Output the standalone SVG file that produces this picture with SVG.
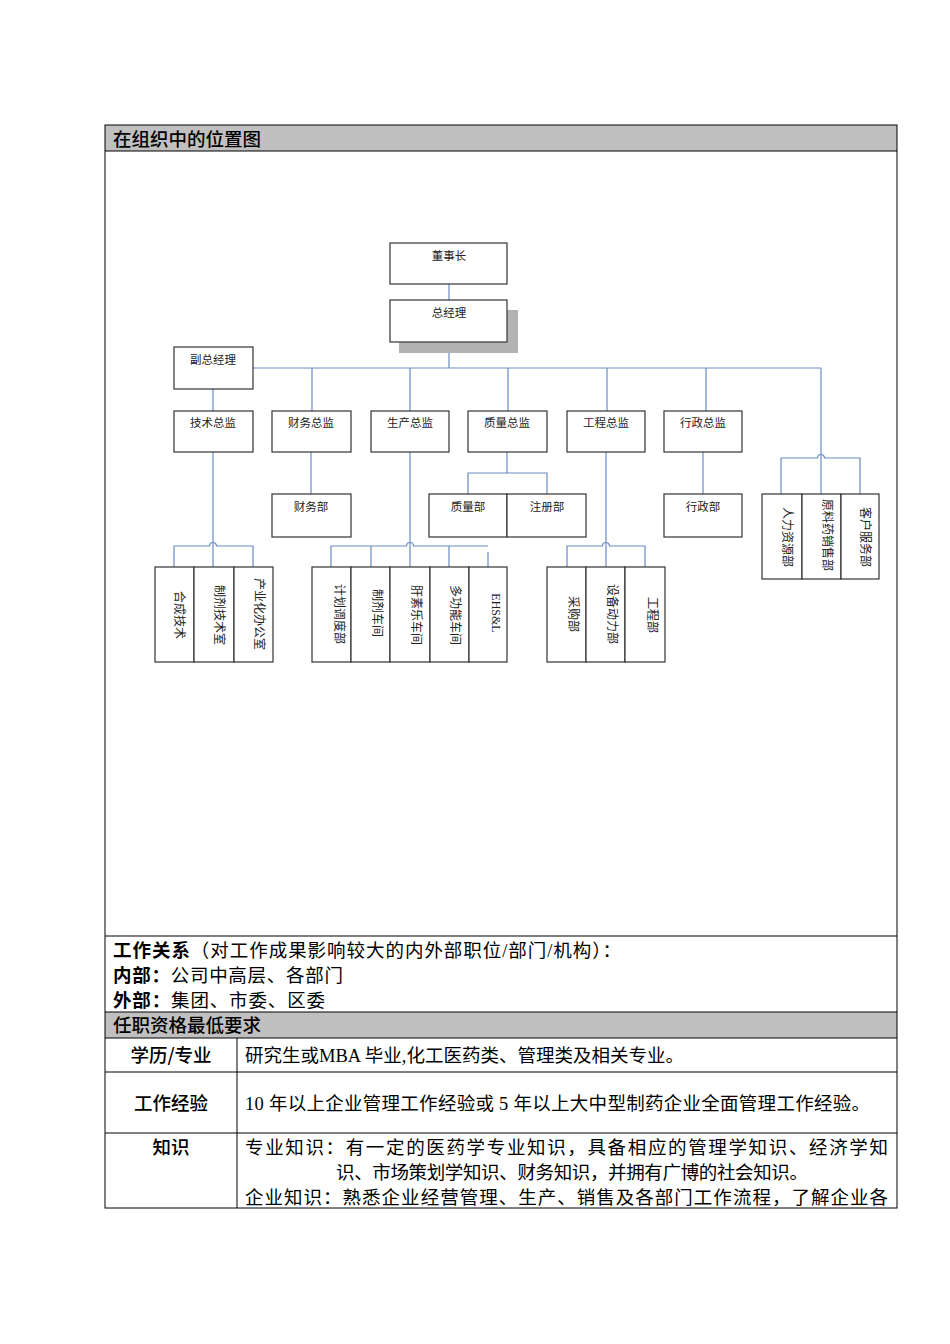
<svg xmlns="http://www.w3.org/2000/svg" width="950" height="1344" viewBox="0 0 950 1344">
<style>
.bx{fill:#fff;stroke:#333;stroke-width:1.2}
.cn{fill:none;stroke:#6a8cc4;stroke-width:1.2}
.t{font-family:"Noto Sans CJK SC","Liberation Sans",sans-serif;font-size:11.5px;fill:#222;text-anchor:middle}
.v{font-family:"Noto Sans CJK SC","Liberation Sans",sans-serif;font-size:12px;fill:#222;text-anchor:middle}
.ve{font-family:"Liberation Serif","Noto Sans CJK SC",serif;font-size:12px;fill:#222;text-anchor:middle}
.tl{fill:none;stroke:#000;stroke-width:1}
.hd{font-family:"Noto Sans CJK SC",sans-serif;font-size:18.5px;font-weight:500;fill:#000}
.lb{font-family:"Noto Sans CJK SC",sans-serif;font-size:18.5px;font-weight:500;fill:#000;text-anchor:middle}
.bd{font-family:"Noto Sans CJK SC",sans-serif;font-weight:bold}
.bt{font-family:"Liberation Serif","Noto Sans CJK SC",serif;font-size:18.5px;fill:#000}
</style>

<g id="table">
  <rect x="105" y="125" width="792" height="26" fill="#c0c0c0"/>
  <rect x="105" y="1012" width="792" height="26" fill="#c0c0c0"/>
  <rect class="tl" x="105" y="125" width="792" height="1083"/>
  <line class="tl" x1="105" y1="151" x2="897" y2="151"/>
  <line class="tl" x1="105" y1="936" x2="897" y2="936"/>
  <line class="tl" x1="105" y1="1012" x2="897" y2="1012"/>
  <line class="tl" x1="105" y1="1038" x2="897" y2="1038"/>
  <line class="tl" x1="105" y1="1072" x2="897" y2="1072"/>
  <line class="tl" x1="105" y1="1133" x2="897" y2="1133"/>
  <line class="tl" x1="237" y1="1038" x2="237" y2="1208" stroke-width="1.5"/>
  <text class="hd" x="113" y="146">在组织中的位置图</text>
  <text class="bt" x="113" y="957" textLength="508" lengthAdjust="spacing"><tspan class="bd">工作关系</tspan>（对工作成果影响较大的内外部职位/部门/机构）：</text>
  <text class="bt" x="113" y="982" textLength="230" lengthAdjust="spacing"><tspan class="bd">内部：</tspan>公司中高层、各部门</text>
  <text class="bt" x="113" y="1007" textLength="212" lengthAdjust="spacing"><tspan class="bd">外部：</tspan>集团、市委、区委</text>
  <text class="hd" x="113" y="1032">任职资格最低要求</text>
  <text class="lb" x="171" y="1062">学历/专业</text>
  <text class="bt" x="245" y="1062" textLength="439" lengthAdjust="spacing">研究生或MBA 毕业,化工医药类、管理类及相关专业。</text>
  <text class="lb" x="171" y="1110">工作经验</text>
  <text class="bt" x="245" y="1110" textLength="625" lengthAdjust="spacing">10 年以上企业管理工作经验或 5 年以上大中型制药企业全面管理工作经验。</text>
  <text class="lb" x="171" y="1154">知识</text>
  <text class="bt" x="245" y="1154" textLength="643" lengthAdjust="spacing">专业知识：有一定的医药学专业知识，具备相应的管理学知识、经济学知</text>
  <text class="bt" x="336" y="1179" textLength="472" lengthAdjust="spacing">识、市场策划学知识、财务知识，并拥有广博的社会知识。</text>
  <text class="bt" x="245" y="1204" textLength="643" lengthAdjust="spacing">企业知识：熟悉企业经营管理、生产、销售及各部门工作流程，了解企业各</text>
</g>

<g id="connectors">
  <line class="cn" x1="449" y1="284" x2="449" y2="300"/>
  <line class="cn" x1="449" y1="342" x2="449" y2="368"/>
  <line class="cn" x1="253" y1="368" x2="821" y2="368"/>
  <line class="cn" x1="312" y1="368" x2="312" y2="411"/>
  <line class="cn" x1="410" y1="368" x2="410" y2="411"/>
  <line class="cn" x1="508" y1="368" x2="508" y2="411"/>
  <line class="cn" x1="607" y1="368" x2="607" y2="411"/>
  <line class="cn" x1="706" y1="368" x2="706" y2="411"/>
  <line class="cn" x1="821" y1="368" x2="821" y2="494"/>
  <line class="cn" x1="213" y1="389" x2="213" y2="411"/>
  <!-- tech -->
  <line class="cn" x1="213" y1="452" x2="213" y2="567"/>
  <path class="cn" d="M174,567 V546 H209.5 A3.5,3.5 0 0 1 216.5,546 H253 V567"/>
  <!-- finance -->
  <line class="cn" x1="311" y1="452" x2="311" y2="494"/>
  <!-- production -->
  <line class="cn" x1="410" y1="452" x2="410" y2="567"/>
  <path class="cn" d="M331,567 V546 H406.5 A3.5,3.5 0 0 1 413.5,546 H488"/>
  <line class="cn" x1="371" y1="546" x2="371" y2="567"/>
  <line class="cn" x1="449" y1="546" x2="449" y2="567"/>
  <line class="cn" x1="488" y1="552" x2="488" y2="567"/>
  <!-- quality -->
  <path class="cn" d="M507,452 V473"/>
  <path class="cn" d="M468,494 V473 H547 V494"/>
  <!-- engineering -->
  <line class="cn" x1="606" y1="452" x2="606" y2="567"/>
  <path class="cn" d="M567,567 V546 H602.5 A3.5,3.5 0 0 1 609.5,546 H645 V567"/>
  <!-- admin -->
  <line class="cn" x1="703" y1="452" x2="703" y2="494"/>
  <!-- right group -->
  <path class="cn" d="M781,494 V458 H817.5 A3.5,3.5 0 0 1 824.5,458 H860 V494"/>
</g>

<g id="n-chairman">
  <rect class="bx" x="390" y="243" width="117" height="41"/>
  <text class="t" x="449" y="260">董事长</text>
</g>
<g id="n-gm">
  <rect x="399" y="310" width="119" height="43" fill="#b3b3b3"/>
  <rect class="bx" x="390" y="300" width="117" height="42"/>
  <text class="t" x="449" y="317">总经理</text>
</g>
<g id="n-vgm">
  <rect class="bx" x="174" y="347" width="79" height="42"/>
  <text class="t" x="213" y="364">副总经理</text>
</g>
<g id="n-tech">
  <rect class="bx" x="174" y="411" width="79" height="41"/>
  <text class="t" x="213" y="427">技术总监</text>
</g>
<g id="n-fin">
  <rect class="bx" x="272" y="411" width="79" height="41"/>
  <text class="t" x="311" y="427">财务总监</text>
</g>
<g id="n-prod">
  <rect class="bx" x="371" y="411" width="78" height="41"/>
  <text class="t" x="410" y="427">生产总监</text>
</g>
<g id="n-qual">
  <rect class="bx" x="468" y="411" width="79" height="41"/>
  <text class="t" x="507" y="427">质量总监</text>
</g>
<g id="n-eng">
  <rect class="bx" x="567" y="411" width="78" height="41"/>
  <text class="t" x="606" y="427">工程总监</text>
</g>
<g id="n-admin">
  <rect class="bx" x="664" y="411" width="78" height="41"/>
  <text class="t" x="703" y="427">行政总监</text>
</g>
<g id="n-findept">
  <rect class="bx" x="272" y="494" width="79" height="43"/>
  <text class="t" x="311" y="511">财务部</text>
</g>
<g id="n-qdept">
  <rect class="bx" x="429" y="494" width="78" height="43"/>
  <text class="t" x="468" y="511">质量部</text>
</g>
<g id="n-reg">
  <rect class="bx" x="507" y="494" width="79" height="43"/>
  <text class="t" x="547" y="511">注册部</text>
</g>
<g id="n-admindept">
  <rect class="bx" x="664" y="494" width="78" height="43"/>
  <text class="t" x="703" y="511">行政部</text>
</g>

<g id="n-hr">
  <rect class="bx" x="762" y="494" width="40" height="85"/>
  <text class="v" transform="translate(782.5,537) rotate(90)">人力资源部</text>
</g>
<g id="n-api">
  <rect class="bx" x="802" y="494" width="39" height="85"/>
  <text class="v" transform="translate(822.5,535) rotate(90)">原料药销售部</text>
</g>
<g id="n-cs">
  <rect class="bx" x="841" y="494" width="38" height="85"/>
  <text class="v" transform="translate(860.5,537) rotate(90)">客户服务部</text>
</g>

<g id="n-syn">
  <rect class="bx" x="155" y="567" width="39" height="95"/>
  <text class="v" transform="translate(174.5,615) rotate(90)">合成技术</text>
</g>
<g id="n-form">
  <rect class="bx" x="194" y="567" width="40" height="95"/>
  <text class="v" transform="translate(214.5,615) rotate(90)">制剂技术室</text>
</g>
<g id="n-ind">
  <rect class="bx" x="234" y="567" width="39" height="95"/>
  <text class="v" transform="translate(254.5,614) rotate(90)">产业化办公室</text>
</g>

<g id="n-plan">
  <rect class="bx" x="312" y="567" width="39" height="95"/>
  <text class="v" transform="translate(334.5,614) rotate(90)">计划调度部</text>
</g>
<g id="n-formws">
  <rect class="bx" x="351" y="567" width="39" height="95"/>
  <text class="v" transform="translate(372.5,613) rotate(90)">制剂车间</text>
</g>
<g id="n-hep">
  <rect class="bx" x="390" y="567" width="40" height="95"/>
  <text class="v" transform="translate(411.5,615) rotate(90)">肝素乐车间</text>
</g>
<g id="n-multi">
  <rect class="bx" x="430" y="567" width="39" height="95"/>
  <text class="v" transform="translate(450.5,615) rotate(90)">多功能车间</text>
</g>
<g id="n-ehs">
  <rect class="bx" x="469" y="567" width="38" height="95"/>
  <text class="ve" transform="translate(492,613) rotate(90)">EHS&amp;L</text>
</g>

<g id="n-purch">
  <rect class="bx" x="547" y="567" width="39" height="95"/>
  <text class="v" transform="translate(568.5,614) rotate(90)">采购部</text>
</g>
<g id="n-equip">
  <rect class="bx" x="586" y="567" width="39" height="95"/>
  <text class="v" transform="translate(607.5,614) rotate(90)">设备动力部</text>
</g>
<g id="n-engdept">
  <rect class="bx" x="625" y="567" width="40" height="95"/>
  <text class="v" transform="translate(647.5,615) rotate(90)">工程部</text>
</g>
</svg>
